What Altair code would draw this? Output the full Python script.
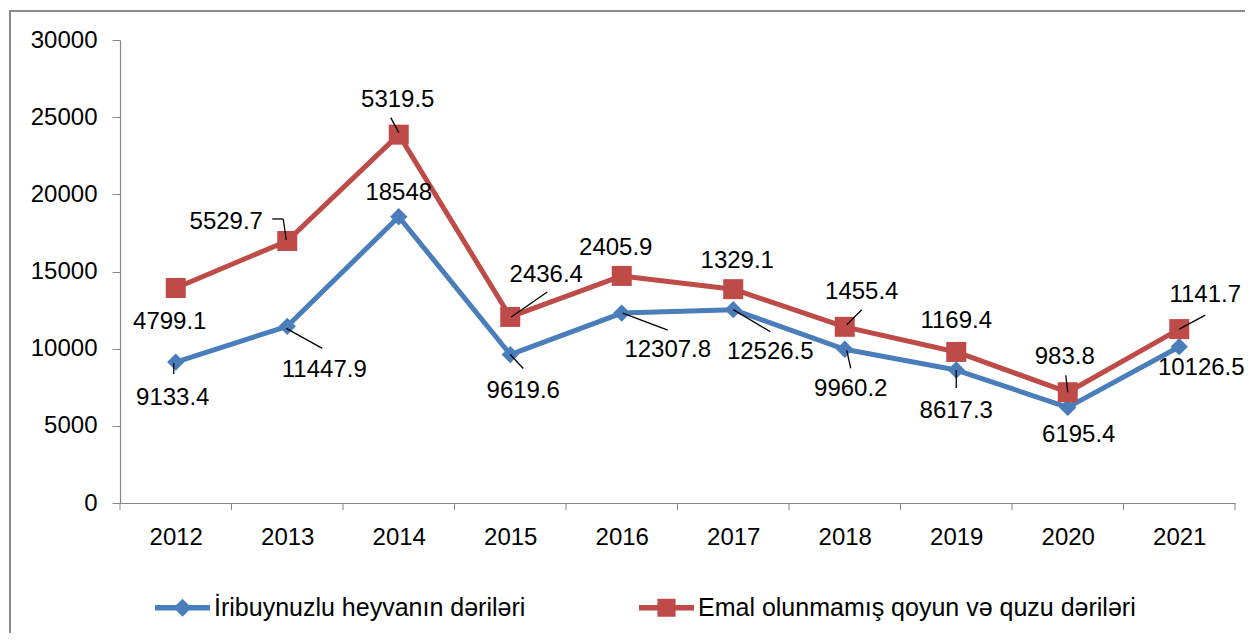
import altair as alt
import pandas as pd

# ---------------- data ----------------
years = [2012, 2013, 2014, 2015, 2016, 2017, 2018, 2019, 2020, 2021]
cattle = [9133.4, 11447.9, 18548, 9619.6, 12307.8, 12526.5, 9960.2, 8617.3, 6195.4, 10126.5]
sheep = [4799.1, 5529.7, 5319.5, 2436.4, 2405.9, 1329.1, 1455.4, 1169.4, 983.8, 1141.7]
series_names = ["İribuynuzlu heyvanın dəriləri", "Emal olunmamış qoyun və quzu dəriləri"]
y_ticks = [0, 5000, 10000, 15000, 20000, 25000, 30000]

# ---------------- layout / style ----------------
FONT = "Liberation Sans"
FS = 24
LEG_FS = 25
W, H = 1115, 463
X_DOMAIN = [years[0] - 0.5, years[-1] + 0.5]
Y_DOMAIN = [0, 30000]
PX_X = W / (X_DOMAIN[1] - X_DOMAIN[0])
PX_Y = H / (Y_DOMAIN[1] - Y_DOMAIN[0])
COLORS = ["#4A7EBB", "#BE4B48"]
AXIS_GREY = "#868686"

# label offsets in pixels (dx right, dy down) relative to each point
label_off = [
    [(-3, 36), (37, 44), (0, -24), (13, 36), (46, 37), (37, 42), (6, 40), (0, 41), (11, 28), (22, 21)],
    [(-6, 34), (-61, -19), (-1, -35), (36, -42), (-6, -28), (4, -28), (17, -35), (0, -31), (-3, -35), (26, -34)],
]
# leader-line segments in pixels relative to each point
leaders = [
    {2012: [((-2, 1), (-2, 12))], 2013: [((-1, 2), (35, 22))], 2015: [((0, 0), (13, 14))],
     2016: [((1, 0), (46, 17))], 2017: [((0, 0), (37, 22))], 2018: [((2, 1), (6, 19))],
     2019: [((0, 0), (0, 18))]},
    {2013: [((-15, -22), (-4, -22)), ((-4, -22), (-1, -1))], 2014: [((-8, -17), (0, -2))],
     2015: [((1, 0), (37, -25))], 2018: [((2, -2), (17, -17))], 2020: [((-2, -17), (0, 0))],
     2021: [((0, 0), (26, -14))]},
]

# ---------------- tables ----------------
rows, seg_rows = [], []
for s, name in enumerate(series_names):
    for i, yr in enumerate(years):
        own = cattle[i] if s == 0 else sheep[i]
        plot_y = cattle[i] + (sheep[i] if s == 1 else 0)  # second series is stacked on the first
        dx, dy = label_off[s][i]
        rows.append({
            "year": yr, "series": name, "value": own, "plot_y": plot_y,
            "label": f"{own:g}",
            "lx": yr + dx / PX_X, "ly": plot_y - dy / PX_Y,
        })
        for (a, b) in leaders[s].get(yr, []):
            seg_rows.append({
                "series": name,
                "x1": yr + a[0] / PX_X, "y1": plot_y - a[1] / PX_Y,
                "x2": yr + b[0] / PX_X, "y2": plot_y - b[1] / PX_Y,
            })
df = pd.DataFrame(rows)
segs = pd.DataFrame(seg_rows)
bounds = pd.DataFrame({"b": [y - 0.5 for y in years] + [years[-1] + 0.5]})

xs = alt.Scale(domain=X_DOMAIN, nice=False, zero=False)
ys = alt.Scale(domain=Y_DOMAIN, nice=False, zero=True)

X = alt.X("year:Q", scale=xs, axis=alt.Axis(values=years, format="d", tickSize=0, labelPadding=22,
                                           grid=False, title=None, labelFontSize=FS))
Y = alt.Y("plot_y:Q", scale=ys, axis=alt.Axis(values=y_ticks, format="d", tickSize=8, labelPadding=15,
                                              grid=False, title=None, labelFontSize=FS))

base = alt.Chart(df)

frame = alt.Chart(pd.DataFrame({"k": [0]})).mark_rect(
    fill="transparent", stroke="#898989", strokeWidth=2
).encode(x=alt.value(-110), x2=alt.value(3000), y=alt.value(-29), y2=alt.value(3000))

ticks = alt.Chart(bounds).mark_rule(color=AXIS_GREY, strokeWidth=1).encode(
    x=alt.X("b:Q", scale=xs), y=alt.value(H), y2=alt.value(H + 7)
)

shapes = ["diamond", "square"]
sizes = [300, 400]
layers = [frame, ticks]
for s, name in enumerate(series_names):
    sub = base.transform_filter(alt.datum.series == name)
    layers.append(sub.mark_line(color=COLORS[s], strokeWidth=5, strokeJoin="round").encode(x=X, y=Y))
    layers.append(sub.mark_point(shape=shapes[s], size=sizes[s], filled=True, opacity=1,
                                 color=COLORS[s]).encode(x=X, y=Y))

leader_layer = alt.Chart(segs).mark_rule(color="black", strokeWidth=1.3).encode(
    x=alt.X("x1:Q", scale=xs), x2="x2:Q", y=alt.Y("y1:Q", scale=ys), y2="y2:Q"
)
text_layer = base.mark_text(font=FONT, fontSize=FS, color="black", align="center", baseline="middle").encode(
    x=alt.X("lx:Q", scale=xs), y=alt.Y("ly:Q", scale=ys), text="label:N"
)

# legend-only layer (no rows drawn, explicit domains)
leg_paths = [
    "M-1,-0.1L1,-0.1L1,0.1L-1,0.1Z M-0.33,0L0,-0.33L0.33,0L0,0.33Z",
    "M-1,-0.1L1,-0.1L1,0.1L-1,0.1Z M-0.33,-0.33L0.33,-0.33L0.33,0.33L-0.33,0.33Z",
]
legend = alt.Legend(title=None, orient="none", legendX=35, legendY=540, direction="horizontal",
                    labelFont=FONT, labelFontSize=LEG_FS, labelColor="black", labelOffset=4,
                    columnPadding=113, symbolSize=3025, symbolStrokeWidth=0, symbolOpacity=1,
                    padding=0, labelLimit=1000)
legend_layer = base.transform_filter("false").mark_point(filled=True, opacity=1, size=3025).encode(
    color=alt.Color("series:N", scale=alt.Scale(domain=series_names, range=COLORS), legend=legend),
    shape=alt.Shape("series:N", scale=alt.Scale(domain=series_names, range=leg_paths), legend=legend),
)

layers += [leader_layer, text_layer, legend_layer]

chart = alt.layer(*layers).properties(
    width=W, height=H,
    padding={"left": 112, "top": 32, "right": 10, "bottom": 130},
    autosize=alt.AutoSizeParams(type="none"),
).configure_view(stroke=None).configure_axis(
    labelFont=FONT, labelColor="black", domainColor=AXIS_GREY, tickColor=AXIS_GREY, domainWidth=1.2
)

chart.save("out.html", embed_options={"renderer": "svg", "actions": False})
